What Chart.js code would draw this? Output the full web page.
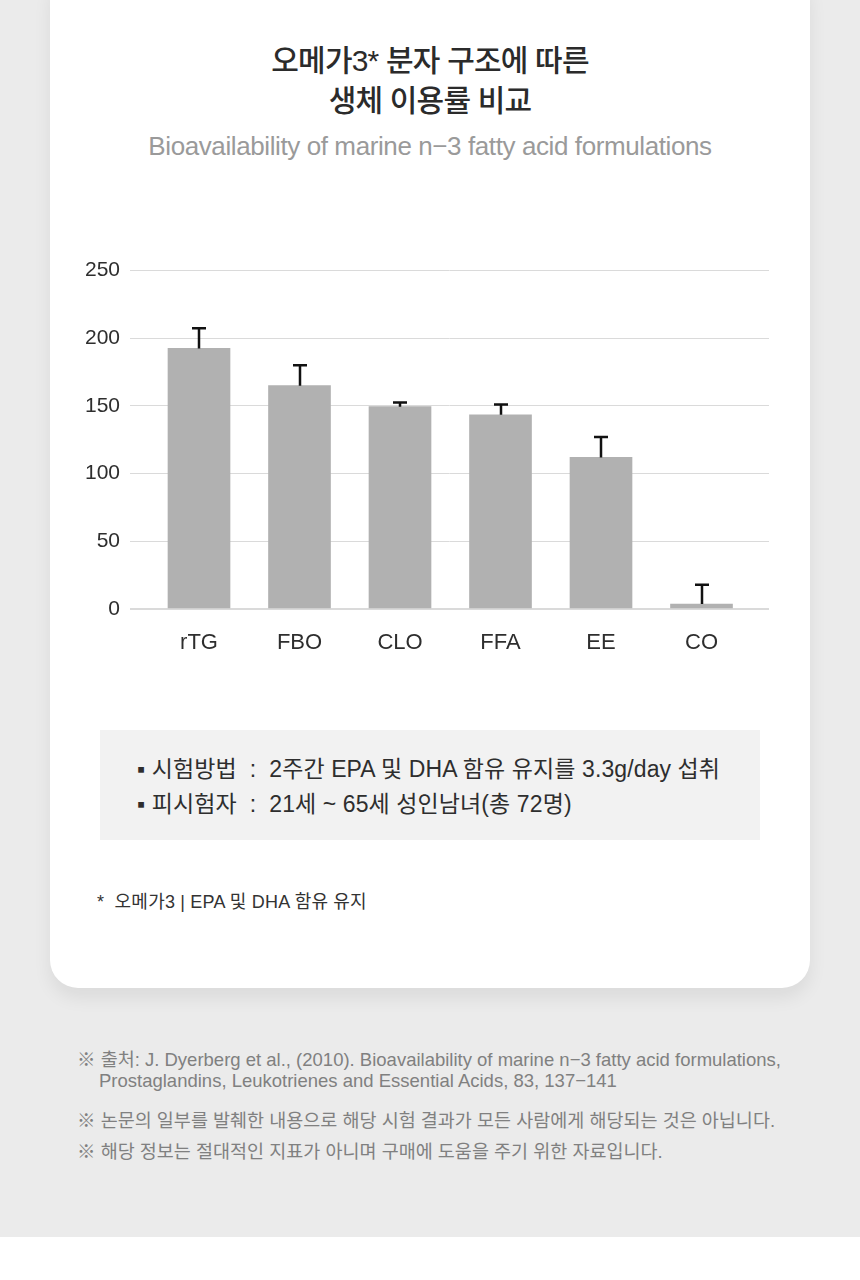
<!DOCTYPE html>
<html>
<head>
<meta charset="utf-8">
<script src="https://cdn.jsdelivr.net/npm/chart.js@4"></script>
<style>
  html, body { margin: 0; padding: 0; }
  body {
    width: 860px; height: 1280px; position: relative; overflow: hidden;
    background: #fff;
    font-family: "Liberation Sans", Arial, "Noto Sans CJK KR", sans-serif;
  }
  .page { position: absolute; left: 0; top: 0; width: 860px; height: 1237px; background: #ebebeb; }
  .card {
    position: absolute; left: 50px; top: -30px; width: 760px; height: 1018px;
    background: #fff; border-radius: 28px;
    box-shadow: 0 10px 18px rgba(0,0,0,0.07);
  }
  .t { position: absolute; white-space: nowrap; }
  .title { left: 0; width: 860px; text-align: center; font-size: 30px; color: #2b2b2b; letter-spacing: -0.8px; font-weight: 500; }
  .sub { left: 0; width: 860px; text-align: center; top: 131px; font-size: 26px; color: #9a9a9a; letter-spacing: -0.4px; }
  .box { position: absolute; left: 100px; top: 730px; width: 660px; height: 110px; background: #f2f2f2; }
  .bl { left: 137px; font-size: 23px; color: #2e2e2e; letter-spacing: 0.1px; }
  .fn { left: 97px; top: 887px; font-size: 18px; color: #333; letter-spacing: 0.2px; }
  .note { font-size: 18.5px; color: #808080; letter-spacing: 0; }
  #wrap { position: absolute; left: 0; top: 248px; width: 860px; height: 433px; }
</style>
</head>
<body>
<div class="page"></div>
<div class="card"></div>

<div class="t title" style="top:36px">오메가3* 분자 구조에 따른</div>
<div class="t title" style="top:76px">생체 이용률 비교</div>
<div class="t sub">Bioavailability of marine n−3 fatty acid formulations</div>

<div id="wrap"><canvas id="grafico"></canvas></div>

<div class="box"></div>
<div class="t bl" style="top:750px">▪ 시험방법 &nbsp;:&nbsp; 2주간 EPA 및 DHA 함유 유지를 3.3g/day 섭취</div>
<div class="t bl" style="top:785px">▪ 피시험자 &nbsp;:&nbsp; 21세 ~ 65세 성인남녀(총 72명)</div>

<div class="t fn">*&nbsp; 오메가3 | EPA 및 DHA 함유 유지</div>

<div class="t note" style="left:77px;top:1045px">※ 출처: J. Dyerberg et al., (2010). Bioavailability of marine n−3 fatty acid formulations,</div>
<div class="t note" style="left:99px;top:1070px">Prostaglandins, Leukotrienes and Essential Acids, 83, 137−141</div>
<div class="t note" style="left:77px;top:1106px">※ 논문의 일부를 발췌한 내용으로 해당 시험 결과가 모든 사람에게 해당되는 것은 아닙니다.</div>
<div class="t note" style="left:77px;top:1137px">※ 해당 정보는 절대적인 지표가 아니며 구매에 도움을 주기 위한 자료입니다.</div>

<script>
// dados do grafico
const categorias = ['rTG', 'FBO', 'CLO', 'FFA', 'EE', 'CO'];
const valores = [192.5, 165, 149.5, 143.5, 112, 3.7];
const erros = [15, 15, 3, 7.5, 15, 14.3];
const ticksY = [0, 50, 100, 150, 200, 250];

// barras de erro (so a parte de cima)
const barrasDeErro = {
  id: 'barrasDeErro',
  afterDatasetsDraw(chart) {
    const ctx = chart.ctx;
    const x = chart.scales.x, y = chart.scales.y;
    ctx.save();
    ctx.strokeStyle = '#111';
    ctx.lineWidth = 2.5;
    valores.forEach((v, i) => {
      const px = Math.round(x.getPixelForValue(i));
      const yBase = y.getPixelForValue(v);
      const yTopo = y.getPixelForValue(v + erros[i]);
      ctx.beginPath();
      ctx.moveTo(px, yBase);
      ctx.lineTo(px, yTopo);
      ctx.moveTo(px - 7, yTopo);
      ctx.lineTo(px + 7, yTopo);
      ctx.stroke();
    });
    ctx.restore();
  }
};

const grafico = new Chart(document.getElementById('grafico'), {
  type: 'bar',
  data: {
    datasets: [{
      data: valores.map((v, i) => ({ x: i, y: v })),
      backgroundColor: '#b1b1b1',
      barThickness: 62
    }]
  },
  options: {
    responsive: true,
    maintainAspectRatio: false,
    animation: false,
    layout: { padding: { top: 17, right: 91, left: 0, bottom: 0 } },
    plugins: { legend: { display: false }, tooltip: { enabled: false } },
    scales: {
      x: {
        type: 'linear',
        offset: false,
        min: -0.6866,
        max: 5.6716,
        afterBuildTicks: (s) => { s.ticks = categorias.map((c, i) => ({ value: i })); },
        afterFit: (s) => { s.height = 72; },
        grid: { display: false, drawTicks: false, offset: false },
        border: { display: false },
        ticks: {
          padding: 21,
          color: '#2e2e2e',
          font: { size: 22, family: '"Liberation Sans", Arial' },
          callback: (v) => categorias[v]
        }
      },
      y: {
        min: 0,
        max: 250,
        afterBuildTicks: (s) => { s.ticks = ticksY.map(v => ({ value: v })); },
        afterFit: (s) => { s.width = 130; },
        grid: {
          drawTicks: false,
          color: '#dadada',
          lineWidth: (c) => c.tick && c.tick.value === 0 ? 2 : 1
        },
        border: { display: false },
        ticks: {
          padding: 10,
          color: '#2e2e2e',
          font: { size: 21, family: '"Liberation Sans", Arial' }
        }
      }
    }
  },
  plugins: [barrasDeErro]
});
</script>
</body>
</html>
